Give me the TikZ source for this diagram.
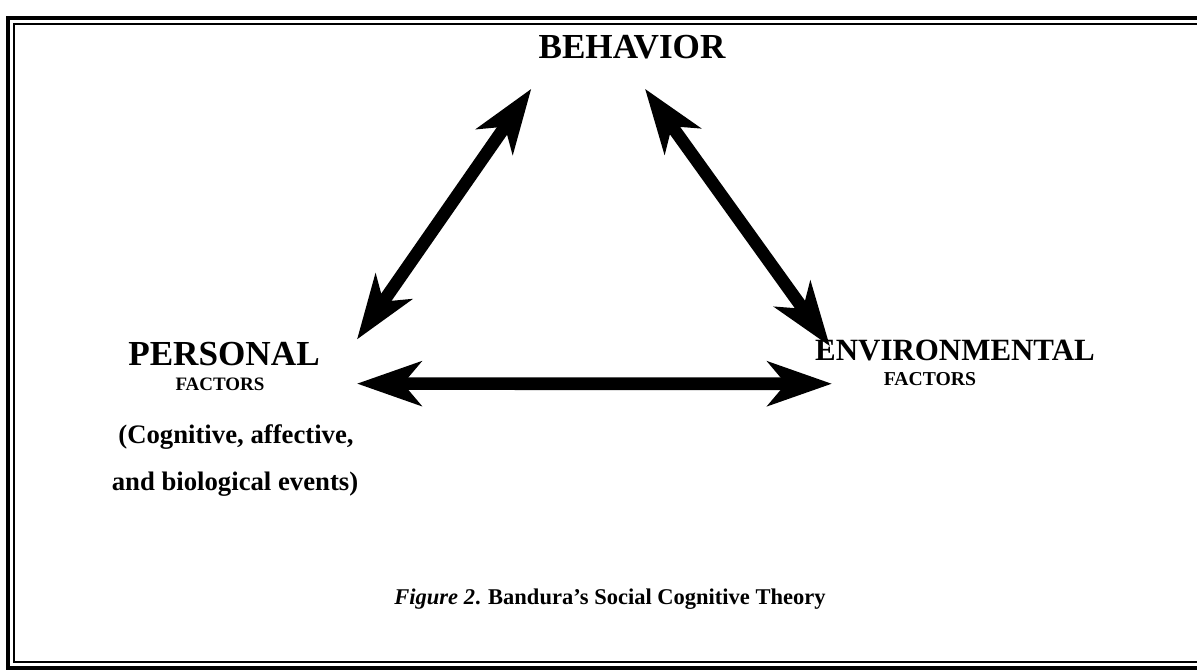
\documentclass[tikz,border=0pt]{standalone}
\usepackage{fontspec}
\setmainfont{Liberation Serif}
\usetikzlibrary{arrows.meta,calc}

\begin{document}
\begin{tikzpicture}[x=0.025cm, y=-0.025cm,
    lbl/.style={inner sep=0pt, anchor=base, font=\bfseries},
    twoway/.style={{Stealth[length=1.6cm, width=1.1cm, inset=0.45cm]}-{Stealth[length=1.6cm, width=1.1cm, inset=0.45cm]},
                   line width=9pt}]
  \useasboundingbox (0,0) rectangle (1197,671);
  \clip (0,0) rectangle (1197,671);
  % double frame
  \draw[line width=2.2pt] (8,18) rectangle (1230,668);
  \draw[line width=1.4pt] (14,24) rectangle (1230,662);

  \node[lbl, font=\bfseries\fontsize{25}{30}\selectfont] (beh)  at (632,58)  {BEHAVIOR};
  \node[lbl, font=\bfseries\fontsize{25}{30}\selectfont] (pers) at (224,365) {PERSONAL};
  \node[lbl, font=\bfseries\fontsize{13.5}{16}\selectfont] (persf) at (220,390) {FACTORS};
  \node[lbl, font=\bfseries\fontsize{19}{23}\selectfont] (perscog) at (236,443) {(Cognitive, affective,};
  \node[lbl, font=\bfseries\fontsize{19}{23}\selectfont] (persbio) at (235,490) {and biological events)};
  \node[lbl, font=\bfseries\fontsize{22}{26}\selectfont] (env)  at (955,360) {ENVIRONMENTAL};
  \node[lbl, font=\bfseries\fontsize{14}{17}\selectfont] (envf) at (930,385) {FACTORS};
  \node[lbl, font=\bfseries\fontsize{16}{19}\selectfont] (fig)  at (610,604) {\textit{Figure 2}. Bandura's Social Cognitive Theory};

  % reciprocal links
  \draw[twoway] ($(pers.north east)+(37,-2)$) -- ($(beh.south west)+(-7,30)$);
  \draw[twoway] ($(beh.south)+(13,30)$) -- ($(env.north west)+(15,7)$);
  \draw[twoway] ($(pers.south east)+(37,18)$) -- ($(env.south west)+(17,23)$);
\end{tikzpicture}
\end{document}
